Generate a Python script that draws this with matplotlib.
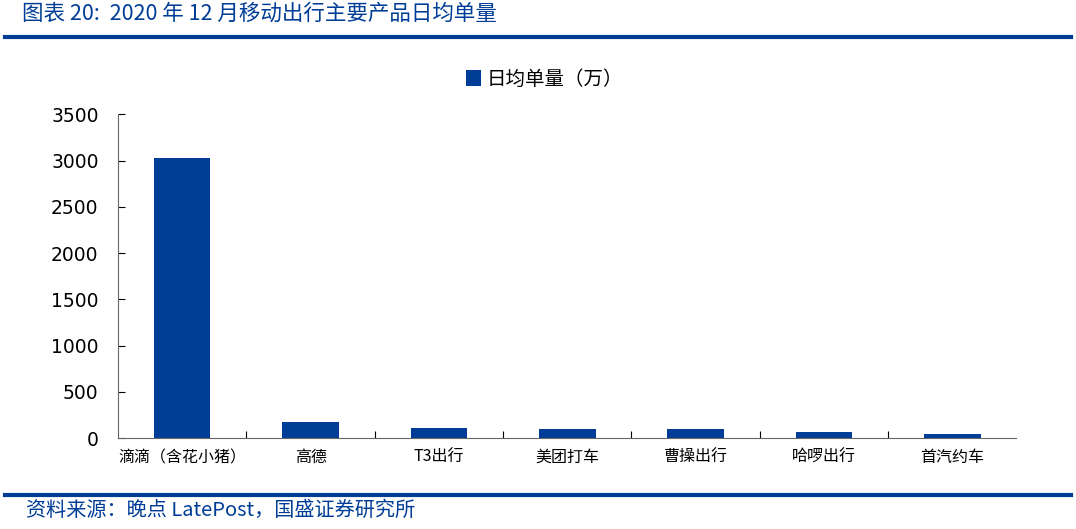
import matplotlib.pyplot as plt
from matplotlib.lines import Line2D

plt.rcParams['font.family'] = ['DejaVu Sans', 'Noto Sans CJK SC']

# Data
products = ['滴滴（含花小猪）', '高德', 'T3出行', '美团打车', '曹操出行', '哈啰出行', '首汽约车']
daily_orders = [3025, 178, 105, 95, 95, 70, 48]
series_name = '日均单量（万）'
title = '图表 20:  2020 年 12 月移动出行主要产品日均单量'
source = '资料来源：晚点 LatePost，国盛证券研究所'

blue = '#003d96'
cjk = ['Noto Sans CJK SC', 'DejaVu Sans']

fig = plt.figure(figsize=(10.76, 5.29), dpi=100)
ax = fig.add_axes([0.1097, 0.172, 0.835, 0.612])

x = range(len(products))
ax.bar(x, daily_orders, width=0.44, color=blue, label=series_name, zorder=2)

ax.set_xlim(-0.5, len(products) - 0.5)
ax.set_ylim(0, 3500)
ax.set_yticks(range(0, 3501, 500))
ax.tick_params(axis='y', direction='in', length=5, labelsize=13.5, pad=14)
ax.set_xticks([i + 0.5 for i in range(len(products) - 1)], minor=False)
ax.set_xticklabels([])
ax.tick_params(axis='x', direction='in', length=5)
ax.set_xticks(list(x), minor=True)
ax.set_xticklabels(products, minor=True, fontfamily=cjk, fontsize=11.5)
ax.tick_params(axis='x', which='minor', length=0, pad=8)
for side in ['top', 'right']:
    ax.spines[side].set_visible(False)
for side in ['left', 'bottom']:
    ax.spines[side].set_color('#666666')

leg = ax.legend(loc='center', bbox_to_anchor=(0.475, 1.107), frameon=False,
                prop={'family': cjk, 'size': 14}, handlelength=0.75, handleheight=0.9,
                handletextpad=0.3)

# Header and footer
fig.text(0.02, 0.974, title, fontsize=15.5, style='italic', color=blue,
         fontfamily=cjk, va='center', ha='left')
fig.add_artist(Line2D([0.005, 0.995], [0.93, 0.93], color=blue, lw=3))
fig.add_artist(Line2D([0.005, 0.995], [0.064, 0.064], color=blue, lw=3))
fig.text(0.024, 0.035, source, fontsize=14.5, style='italic', color=blue,
         fontfamily=cjk, va='center', ha='left')

fig.savefig('out.png', dpi=100)
